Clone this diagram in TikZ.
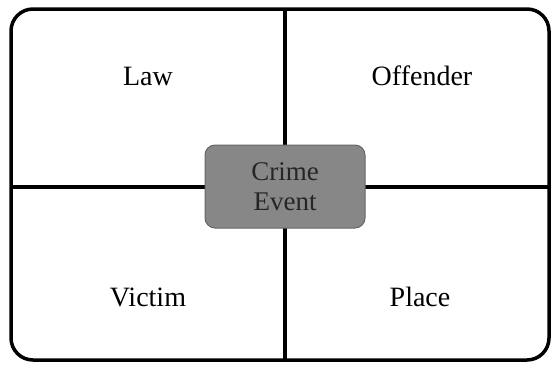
\documentclass[tikz,border=0pt]{standalone}
\usepackage{fontspec}
\setmainfont{Liberation Serif}
\usepackage{tikz}

\begin{document}
\begin{tikzpicture}[x=1pt,y=-1pt]
\tikzstyle{frame}=[line width=3.5pt,rounded corners=22pt];
\tikzstyle{divider}=[line width=3.5pt];
\tikzstyle{label}=[font=\fontsize{28}{30}\selectfont,anchor=base];
\tikzstyle{event}=[fill=black!47,draw=black!60,line width=1pt,rounded corners=10pt,minimum width=160pt,minimum height=83pt,align=center,text=black!85,font=\fontsize{27}{30}\selectfont];
\useasboundingbox (0,0) rectangle (556,365);
\draw[frame] (11,9) rectangle (549,360);
\coordinate (top) at (285,9);
\coordinate (bottom) at (285,360);
\coordinate (left) at (11,187);
\coordinate (right) at (549,187);
\draw[divider] (top) -- (bottom);
\draw[divider] (left) -- (right);
\node[event] (crime) at (285,186.5) {Crime\\Event};
\node[label] (law) at (148,85) {Law};
\node[label] (offender) at (422,85) {Offender};
\node[label] (victim) at (148,306) {Victim};
\node[label] (place) at (420,306) {Place};
\end{tikzpicture}
\end{document}
